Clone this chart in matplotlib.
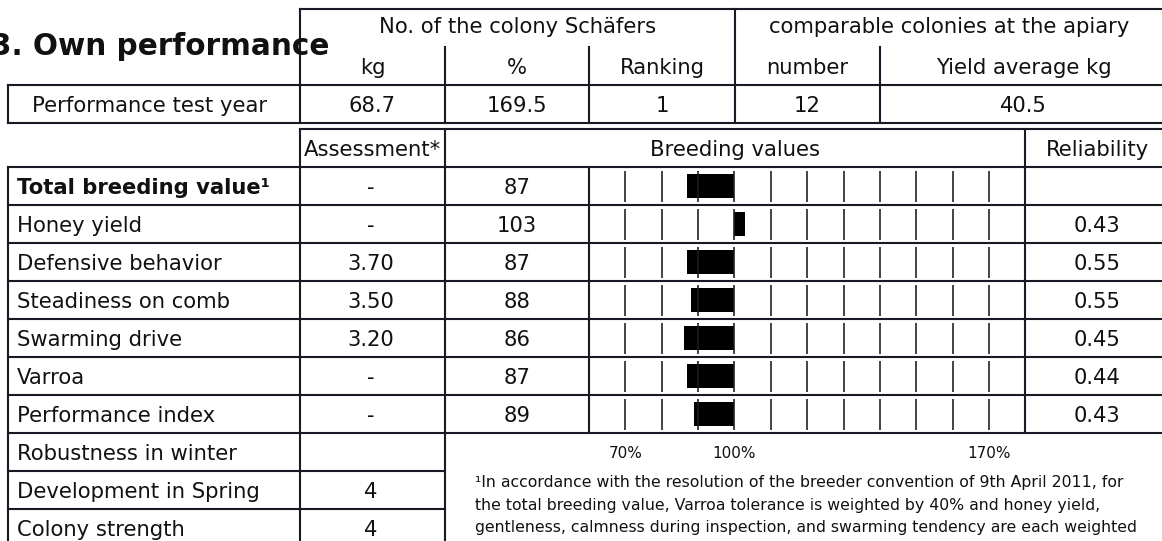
import matplotlib
matplotlib.use("Agg")
import matplotlib.pyplot as plt

# ---------------- data ----------------
title = "3. Own performance"
top_group_headers = ["No. of the colony Schäfers", "comparable colonies at the apiary"]
top_sub_headers = ["kg", "%", "Ranking", "number", "Yield average kg"]
perf_label = "Performance test year"
perf_values = ["68.7", "169.5", "1", "12", "40.5"]

lower_headers = ["Assessment*", "Breeding values", "Reliability"]
traits = ["Total breeding value¹", "Honey yield", "Defensive behavior",
          "Steadiness on comb", "Swarming drive", "Varroa", "Performance index",
          "Robustness in winter", "Development in Spring", "Colony strength"]
assessment = ["-", "-", "3.70", "3.50", "3.20", "-", "-", "", "4", "4"]
breeding_values = [87, 103, 87, 88, 86, 87, 89]
reliability = ["", "0.43", "0.55", "0.55", "0.45", "0.44", "0.43"]
scale_ticks = [70, 80, 90, 100, 110, 120, 130, 140, 150, 160, 170]
scale_labels = ["70%", "", "", "100%", "", "", "", "", "", "", "170%"]
footnote = [
    "¹In accordance with the resolution of the breeder convention of 9th April 2011, for",
    "the total breeding value, Varroa tolerance is weighted by 40% and honey yield,",
    "gentleness, calmness during inspection, and swarming tendency are each weighted",
]

# ---------------- layout (pixels) ----------------
W, H, DPI = 1162, 541, 100
PT = 72.0 / DPI
FS = 21.2 * PT          # main text
FS_TITLE = 29.5 * PT
FS_SMALL = 15.2 * PT
FS_FOOT = 15.8 * PT
LC = "#1a1a26"
LW = 2.1 * PT
TLW = 1.6 * PT
TXT = "#111111"
RIGHT = 1172

fig = plt.figure(figsize=(W / DPI, H / DPI), dpi=DPI)
ax = fig.add_axes([0, 0, 1, 1])
ax.set_xlim(0, W)
ax.set_ylim(H, 0)
ax.axis("off")

def hl(y, x0, x1):
    ax.plot([x0, x1], [y, y], color=LC, lw=LW, solid_capstyle="projecting")

def vl(x, y0, y1):
    ax.plot([x, x], [y0, y1], color=LC, lw=LW, solid_capstyle="projecting")

def txt(x, yc, s, ha="center", fs=FS, weight="normal"):
    em = fs / PT
    ax.text(x, yc + 0.365 * em, s, ha=ha, va="baseline", fontsize=fs,
            color=TXT, fontweight=weight, family="DejaVu Sans")

# title
ax.text(329, 55, title, ha="right", va="baseline", fontsize=FS_TITLE,
        fontweight="bold", color=TXT, family="DejaVu Sans")

# ---------------- top table ----------------
y_top, y_mid, y_r0, y_r1 = 8.5, 47, 85, 123
top_cols = [300, 445, 589, 735, 880, RIGHT]
hl(y_top, 300, RIGHT)
hl(y_r0, 8, RIGHT)
hl(y_r1, 8, RIGHT)
vl(8, y_r0, y_r1)
vl(300, y_top, y_r1)
vl(735, y_top, y_r1)
for x in (445, 589, 880):
    vl(x, y_mid, y_r1)

txt((300 + 735) / 2, (y_top + y_mid) / 2 - 2.5, top_group_headers[0])
txt((735 + RIGHT) / 2 - 4, (y_top + y_mid) / 2 - 2.5, top_group_headers[1])
for i, s in enumerate(top_sub_headers):
    xc = (top_cols[i] + top_cols[i + 1]) / 2
    if i == 4:
        xc -= 2
    txt(xc, (y_mid + y_r0) / 2, s)
txt(150, (y_r0 + y_r1) / 2, perf_label)
for i, s in enumerate(perf_values):
    xc = (top_cols[i] + top_cols[i + 1]) / 2
    if i == 4:
        xc -= 3
    txt(xc, (y_r0 + y_r1) / 2, s)

# ---------------- lower table ----------------
y_h0, y_h1, RH = 129, 167, 38.0
n_bar = len(breeding_values)
y_bar_end = y_h1 + n_bar * RH
y_bottom = y_h1 + len(traits) * RH

hl(y_h0, 300, RIGHT)
vl(300, y_h0, y_bottom)
vl(445, y_h0, y_bottom)
vl(1025.3, y_h0, y_bar_end)
vl(589, y_h1, y_bar_end)
vl(8, y_h1, y_bottom)
for k in range(len(traits)):
    y = y_h1 + k * RH
    hl(y, 8, RIGHT if k <= n_bar else 445)

hc = (y_h0 + y_h1) / 2
txt(372.5, hc, lower_headers[0])
txt((445 + 1025.3) / 2, hc, lower_headers[1])
txt(1097, hc, lower_headers[2])

for i, name in enumerate(traits):
    yc = y_h1 + (i + 0.5) * RH
    txt(17, yc, name, ha="left", weight="bold" if i == 0 else "normal")
    txt(371, yc, assessment[i])
for i, v in enumerate(breeding_values):
    yc = y_h1 + (i + 0.5) * RH
    txt(517, yc, str(v))
    txt(1097, yc, reliability[i])

# ---------------- breeding value bars ----------------
bx = fig.add_axes([589 / W, 1 - y_bar_end / H, (1025.3 - 589) / W, (y_bar_end - y_h1) / H])
bx.set_xlim(60, 180)
bx.set_ylim(n_bar, 0)
bx.axis("off")
rows = [i + 0.5 for i in range(n_bar)]
bx.barh(rows, [v - 100 for v in breeding_values], left=100, height=24.5 / RH,
        color="black", zorder=2)
for i in range(n_bar):
    bx.vlines(scale_ticks, i + 4 / RH, i + 1 - 3.5 / RH, color=LC, lw=TLW, zorder=3)
lab_y = n_bar + (457.7 - y_bar_end) / RH
for t, s in zip(scale_ticks, scale_labels):
    if s:
        bx.text(t, lab_y, s, ha="center", va="baseline", fontsize=FS_SMALL,
                color=TXT, clip_on=False, family="DejaVu Sans")

# ---------------- footnote ----------------
for j, line in enumerate(footnote):
    ax.text(475, 487.3 + 22.5 * j, line, ha="left", va="baseline",
            fontsize=FS_FOOT, color=TXT, family="DejaVu Sans")

fig.savefig("out.png", dpi=DPI)
